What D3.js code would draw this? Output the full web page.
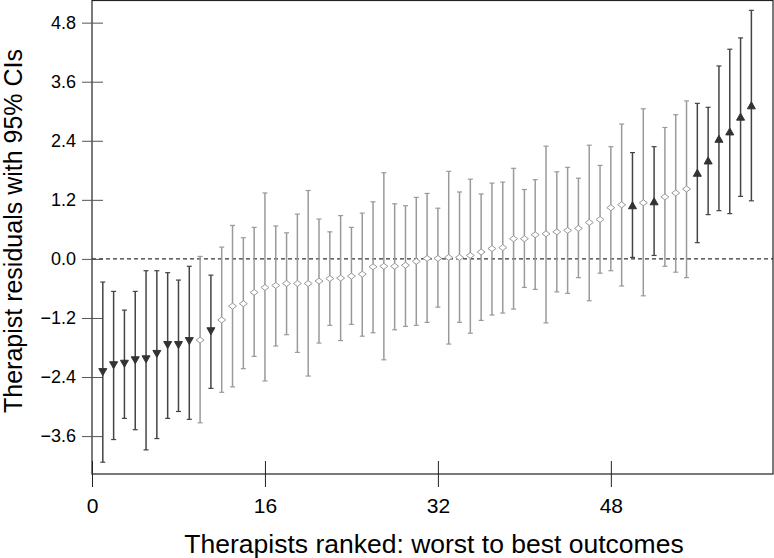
<!DOCTYPE html>
<html>
<head>
<meta charset="utf-8">
<script src="https://cdn.jsdelivr.net/npm/d3@7"></script>
<style>
  body { margin: 0; background: #fff; }
  svg text { fill: #000; }
  .tick-label { font-family: "Liberation Sans Narrow", "Liberation Sans", Arial, sans-serif; }
</style>
</head>
<body>
<svg id="chart" width="774" height="558"></svg>
<script>
// therapist rank (1 = worst)
var ranks = d3.range(1, 62);
// residual estimates
var residuals = [-2.29, -2.15, -2.12, -2.05, -2.03, -1.92, -1.74, -1.74, -1.66, -1.65,
  -1.46, -1.24, -0.96, -0.91, -0.68, -0.58, -0.54, -0.50, -0.50, -0.50,
  -0.45, -0.40, -0.39, -0.35, -0.31, -0.16, -0.15, -0.15, -0.13, -0.05,
  0.01, 0.01, 0.03, 0.03, 0.07, 0.14, 0.21, 0.23, 0.41, 0.41,
  0.49, 0.51, 0.55, 0.58, 0.62, 0.74, 0.80, 1.04, 1.10, 1.08,
  1.14, 1.16, 1.26, 1.34, 1.42, 1.74, 1.99, 2.43, 2.58, 2.88, 3.11];
// upper 95% CI
var upper = [-0.47, -0.66, -1.04, -0.66, -0.24, -0.24, -0.28, -0.43, -0.15, 0.05,
  -0.33, 0.24, 0.68, 0.43, 0.64, 1.34, 0.67, 0.53, 0.91, 1.39,
  0.81, 0.55, 0.88, 0.64, 0.93, 1.16, 1.75, 1.12, 1.08, 1.25,
  1.33, 1.03, 1.78, 1.36, 1.62, 1.32, 1.54, 1.56, 1.84, 1.41,
  1.61, 2.29, 1.77, 1.86, 1.64, 2.31, 1.90, 2.28, 2.74, 2.16,
  3.05, 2.28, 2.67, 2.93, 3.21, 3.16, 3.08, 3.92, 4.26, 4.49, 5.05];
// lower 95% CI
var lower = [-4.13, -3.67, -3.24, -3.47, -3.88, -3.65, -3.24, -3.10, -3.26, -3.33,
  -2.63, -2.71, -2.60, -2.23, -1.98, -2.48, -1.77, -1.54, -1.90, -2.38,
  -1.71, -1.35, -1.66, -1.33, -1.57, -1.50, -2.05, -1.44, -1.37, -1.35,
  -1.29, -0.98, -1.73, -1.29, -1.51, -1.25, -1.14, -1.10, -1.02, -0.58,
  -0.62, -1.30, -0.67, -0.70, -0.38, -0.85, -0.29, -0.24, -0.55, 0.03,
  -0.75, 0.07, -0.15, -0.27, -0.38, 0.33, 0.90, 0.98, 0.92, 1.27, 1.18];
// marker group: "down" = worse than average, "up" = better, "mid" = CI crosses zero
var groups = ["down", "down", "down", "down", "down", "down", "down", "down", "down", "mid",
  "down", "mid", "mid", "mid", "mid", "mid", "mid", "mid", "mid", "mid",
  "mid", "mid", "mid", "mid", "mid", "mid", "mid", "mid", "mid", "mid",
  "mid", "mid", "mid", "mid", "mid", "mid", "mid", "mid", "mid", "mid",
  "mid", "mid", "mid", "mid", "mid", "mid", "mid", "mid", "mid", "up",
  "mid", "up", "mid", "mid", "mid", "up", "up", "up", "up", "up", "up"];
var xTicks = [0, 16, 32, 48];
var yTicks = [-3.6, -2.4, -1.2, 0.0, 1.2, 2.4, 3.6, 4.8];

var data = ranks.map(function(r, i) {
  return { rank: r, est: residuals[i], hi: upper[i], lo: lower[i], group: groups[i] };
});

var margin = { top: 0, right: 1, bottom: 84, left: 92 };
var width = 774 - margin.left - margin.right;
var height = 558 - margin.top - margin.bottom;

var x = d3.scaleLinear().domain([0, 63]).range([0, width]);
var y = d3.scaleLinear().domain([-4.37, 5.26]).range([height, 0]);

var svg = d3.select("#chart");
var chart = svg.append("g")
  .attr("transform", "translate(" + margin.left + "," + margin.top + ")");

// frame
chart.append("rect")
  .attr("x", 0).attr("y", 0.5)
  .attr("width", width).attr("height", height - 0.5)
  .attr("fill", "none").attr("stroke", "#222").attr("stroke-width", 1.2);

// zero reference line
chart.append("line")
  .attr("x1", 0).attr("x2", width)
  .attr("y1", y(0)).attr("y2", y(0))
  .attr("stroke", "#000").attr("stroke-width", 1)
  .attr("stroke-dasharray", "4,3");

// axes
var xAxis = chart.append("g")
  .attr("transform", "translate(0," + height + ")")
  .call(d3.axisBottom(x).tickValues(xTicks).tickSize(0).tickFormat(d3.format("d")));
xAxis.select(".domain").remove();
xAxis.selectAll(".tick line").remove();
xAxis.selectAll(".tick").append("line")
  .attr("y1", -13).attr("y2", 13).attr("stroke", "#222");
xAxis.selectAll(".tick text")
  .attr("class", "tick-label")
  .attr("y", 24).attr("dy", "0.71em")
  .style("font-size", "21px");

var yAxis = chart.append("g")
  .call(d3.axisLeft(y).tickValues(yTicks).tickSize(0).tickFormat(d3.format(".1f")));
yAxis.select(".domain").remove();
yAxis.selectAll(".tick").append("line")
  .attr("x1", -10).attr("x2", 11).attr("stroke", "#555");
yAxis.selectAll(".tick text")
  .attr("x", -16)
  .style("font-family", "'Liberation Sans', Arial, sans-serif")
  .style("font-size", "18px");

// axis titles
svg.append("text")
  .attr("class", "tick-label")
  .attr("x", 434)
  .attr("y", 553)
  .attr("text-anchor", "middle")
  .style("font-size", "26.5px")
  .text("Therapists ranked: worst to best outcomes");

svg.append("text")
  .attr("transform", "translate(22," + 231 + ") rotate(-90)")
  .attr("text-anchor", "middle")
  .style("font-family", "'Liberation Sans', Arial, sans-serif")
  .style("font-size", "25px")
  .text("Therapist residuals with 95% CIs");

// error bars
function barColor(d) { return d.group === "mid" ? "#9a9a9a" : "#444"; }

var bars = chart.selectAll(".bar").data(data).enter().append("g").attr("class", "bar");
bars.append("line")
  .attr("x1", function(d) { return x(d.rank); })
  .attr("x2", function(d) { return x(d.rank); })
  .attr("y1", function(d) { return y(d.hi); })
  .attr("y2", function(d) { return y(d.lo); })
  .attr("stroke", barColor).attr("stroke-width", 1.5);
bars.append("line")
  .attr("x1", function(d) { return x(d.rank) - 2.5; })
  .attr("x2", function(d) { return x(d.rank) + 2.5; })
  .attr("y1", function(d) { return y(d.hi); })
  .attr("y2", function(d) { return y(d.hi); })
  .attr("stroke", barColor).attr("stroke-width", 1.2);
bars.append("line")
  .attr("x1", function(d) { return x(d.rank) - 2.5; })
  .attr("x2", function(d) { return x(d.rank) + 2.5; })
  .attr("y1", function(d) { return y(d.lo); })
  .attr("y2", function(d) { return y(d.lo); })
  .attr("stroke", barColor).attr("stroke-width", 1.2);

// markers
function markerPath(g) {
  if (g === "down") return "M-4,-3L4,-3L0,4Z";
  if (g === "up") return "M-4,3L4,3L0,-4Z";
  return "M-4,0L0,-3L4,0L0,3Z";
}
chart.selectAll(".pt").data(data).enter().append("path")
  .attr("class", "pt")
  .attr("transform", function(d) { return "translate(" + x(d.rank) + "," + y(d.est) + ")"; })
  .attr("d", function(d) { return markerPath(d.group); })
  .attr("fill", function(d) { return d.group === "mid" ? "#fff" : "#333"; })
  .attr("stroke", function(d) { return d.group === "mid" ? "#999" : "#333"; })
  .attr("stroke-width", 1);
</script>
</body>
</html>
